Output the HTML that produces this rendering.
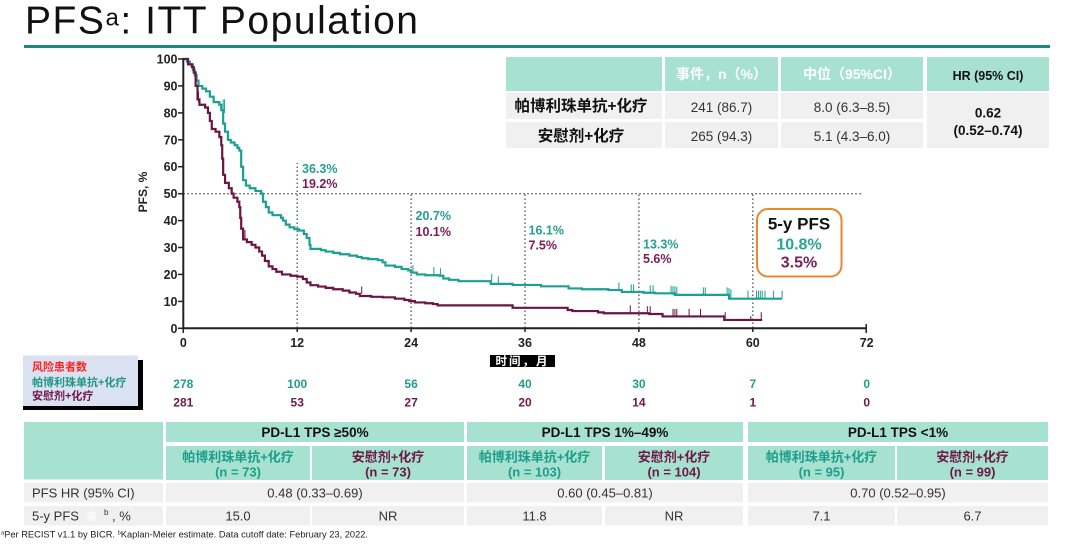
<!DOCTYPE html>
<html>
<head>
<meta charset="utf-8">
<style>
  html,body{margin:0;padding:0;background:#fff;}
  svg{display:block;}
  text{font-family:"Liberation Sans","Noto Sans CJK SC",sans-serif;}
</style>
</head>
<body>
<svg width="1080" height="548" viewBox="0 0 1080 548" xmlns="http://www.w3.org/2000/svg">
  <rect x="0" y="0" width="1080" height="548" fill="#ffffff"/>

  <!-- Title -->
  <text x="25" y="33.5" font-size="39" fill="#111" textLength="393" lengthAdjust="spacing">PFS<tspan font-size="24" dy="-8">a</tspan><tspan dy="8">: ITT Population</tspan></text>
  <rect x="24" y="45" width="1026" height="3" fill="#1a8a7f"/>

  <!-- Top right table -->
  <g>
    <rect x="506" y="57" width="156" height="34" fill="#a7e2d0"/>
    <rect x="665" y="57" width="113" height="34" fill="#a7e2d0"/>
    <rect x="781" y="57" width="142" height="34" fill="#a7e2d0"/>
    <rect x="927" y="57" width="122" height="34" fill="#a7e2d0"/>
    <rect x="506" y="93" width="156" height="26" fill="#f0f0f0"/>
    <rect x="665" y="93" width="113" height="26" fill="#f0f0f0"/>
    <rect x="781" y="93" width="142" height="26" fill="#f0f0f0"/>
    <rect x="506" y="122" width="156" height="26" fill="#f0f0f0"/>
    <rect x="665" y="122" width="113" height="26" fill="#f0f0f0"/>
    <rect x="781" y="122" width="142" height="26" fill="#f0f0f0"/>
    <rect x="927" y="93" width="122" height="55" fill="#f0f0f0"/>

    <text x="721.5" y="79" font-size="14" font-weight="bold" fill="#ffffff" text-anchor="middle">事件，n（%）</text>
    <text x="852" y="79" font-size="14" font-weight="bold" fill="#ffffff" text-anchor="middle">中位（95%CI）</text>
    <text x="988" y="80" font-size="12.5" font-weight="bold" fill="#111" text-anchor="middle">HR (95% CI)</text>

    <text x="581" y="111" font-size="15.5" font-weight="bold" fill="#111" text-anchor="middle">帕博利珠单抗+化疗</text>
    <text x="581" y="141" font-size="15.5" font-weight="bold" fill="#111" text-anchor="middle">安慰剂+化疗</text>

    <text x="721.5" y="112" font-size="13.5" fill="#333" text-anchor="middle">241 (86.7)</text>
    <text x="721.5" y="141" font-size="13.5" fill="#333" text-anchor="middle">265 (94.3)</text>
    <text x="852" y="112" font-size="13.5" fill="#333" text-anchor="middle">8.0 (6.3–8.5)</text>
    <text x="852" y="141" font-size="13.5" fill="#333" text-anchor="middle">5.1 (4.3–6.0)</text>

    <text x="988" y="117.5" font-size="13.5" font-weight="bold" fill="#111" text-anchor="middle">0.62</text>
    <text x="988" y="135" font-size="13.5" font-weight="bold" fill="#111" text-anchor="middle">(0.52–0.74)</text>
  </g>

  <!-- Dotted reference lines -->
  <g stroke="#555" stroke-width="1.3" stroke-dasharray="1.5 2.5" fill="none">
    <line x1="183.3" y1="193.7" x2="862" y2="193.7"/>
    <line x1="297.2" y1="328" x2="297.2" y2="163"/>
    <line x1="411.1" y1="328" x2="411.1" y2="194"/>
    <line x1="525" y1="328" x2="525" y2="194"/>
    <line x1="638.9" y1="328" x2="638.9" y2="192"/>
    <line x1="752.8" y1="328" x2="752.8" y2="192"/>
  </g>

  <!-- Curves -->
  <g transform="translate(183.3,328.3) scale(9.49,-2.693)" fill="none">
    <path vector-effect="non-scaling-stroke" stroke="#1ba091" stroke-width="2.2" d="M0,100 H0.4 V99 H0.7 V98 H1.0 V96 H1.2 V94 H1.4 V92 H1.6 V90 H2.0 V89 H2.4 V88 H2.8 V86 H3.2 V84 H3.8 V83 H4.0 V81 H4.2 V76 H4.4 V73 H4.7 V70 H5.0 V69 H5.4 V68 H5.7 V67 H5.9 V66 H6.1 V60 H6.3 V55 H6.6 V53 H7.0 V52 H7.6 V51 H8.2 V50 H8.4 V47 H8.7 V45 H9.0 V43 H9.4 V42 H10.3 V41 H10.5 V40 H10.8 V38.5 H11.2 V37.5 H11.7 V36.8 H12.2 V36.3 H12.7 V35 H13.0 V33.5 H13.3 V31 H13.4 V29.5 H14.5 V29 H15.0 V28.5 H15.8 V28 H16.5 V27.5 H17.5 V27 H18.3 V26.5 H18.8 V26 H19.5 V25.7 H20.5 V25.3 H21.0 V24.5 H21.3 V23.3 H22.3 V22.8 H23.0 V22 H23.7 V21.5 H24.0 V20.7 H24.6 V20 H25.5 V19.7 H27.0 V19.5 H27.4 V18.5 H28.0 V18 H29.0 V17.5 H32.4 V16.5 H34.7 V16.1 H37.7 V15.6 H40.6 V14.8 H42.0 V14.5 H44.8 V14.2 H46.2 V13.5 H48.5 V13.2 H49.7 V13.0 H51.8 V12.4 H57.5 V11.0 H63.1"/>
    <path vector-effect="non-scaling-stroke" stroke="#6b1545" stroke-width="2.2" d="M0,100 H0.5 V98 H0.9 V97 H1.1 V95 H1.3 V90 H1.5 V85 H1.7 V83 H2.3 V82 H2.6 V80 H2.8 V77 H3.0 V74 H3.4 V73 H3.8 V71 H4.0 V68 H4.1 V63 H4.2 V57 H4.4 V54 H4.8 V52 H5.1 V50 H5.3 V48.5 H5.7 V47 H5.9 V45 H6.0 V41 H6.1 V37 H6.3 V33 H6.7 V32 H7.2 V31 H7.6 V30 H8.0 V28.5 H8.3 V27 H8.6 V25 H9.0 V23 H9.4 V22 H9.8 V21 H10.4 V20 H11.3 V19.5 H12.0 V19.2 H12.6 V18.3 H13.0 V17 H13.4 V16 H14.2 V15.5 H15.0 V15 H15.8 V14.5 H16.8 V14 H17.5 V13.3 H18.2 V12.8 H18.6 V12 H19.8 V11.7 H21.0 V11.5 H22.3 V11 H23.3 V10.5 H23.8 V10.1 H24.4 V9.6 H25.5 V9.3 H26.3 V9.0 H26.8 V8.5 H34.7 V7.6 H40.5 V6.8 H41.0 V6.4 H43.7 V5.9 H44.3 V5.6 H49.1 V5.3 H50.5 V4.4 H57.0 V3.1 H61.0"/>
    <path vector-effect="non-scaling-stroke" stroke="#1ba091" stroke-width="1" d="M4.2,79V85 M4.35,80V85 M24.2,20.7V23.5 M26.4,19.7V22.7 M27.1,19.5V22.3 M32.5,17.5V20.3 M33.2,16.5V19.3 M45.9,14.2V17 M47.2,13.5V16.3 M47.45,13.5V16.3 M49.2,13.2V16 M49.5,13.2V16 M51.4,13V15.8 M51.6,12.4V15.6 M51.8,12.4V15.6 M52.0,12.4V15.4 M54.8,12.4V15.2 M55.0,12.4V15.2 M57.3,12.4V15.2 M57.5,11V15 M57.7,11V14.5 M59.5,11V14 M60.4,11V14 M60.6,11V14 M60.8,11V14 M61.0,11V14 M61.3,11V14 M62.2,11V14 M63.1,11V14"/>
    <path vector-effect="non-scaling-stroke" stroke="#6b1545" stroke-width="1" d="M1.6,84V88 M6.5,33V36.5 M18.8,12.8V15.5 M47.1,5.6V8.5 M48.9,5.3V8.2 M49.2,5.3V8.2 M51.6,4.4V7.2 M51.8,4.4V7.2 M52.0,4.4V7.2 M53.3,4.4V7.2 M54.5,4.4V7.2 M57.1,3.1V6 M59.8,3.1V4.5 M60.9,3.1V6"/>
  </g>

  <!-- Axes -->
  <g stroke="#222" stroke-width="2" fill="none">
    <line x1="183.3" y1="58" x2="183.3" y2="329.3"/>
    <line x1="182.3" y1="328.3" x2="867" y2="328.3"/>
  </g>
  <g stroke="#222" stroke-width="1.5">
    <line x1="178" y1="328.3" x2="183" y2="328.3"/>
    <line x1="178" y1="301.4" x2="183" y2="301.4"/>
    <line x1="178" y1="274.4" x2="183" y2="274.4"/>
    <line x1="178" y1="247.5" x2="183" y2="247.5"/>
    <line x1="178" y1="220.6" x2="183" y2="220.6"/>
    <line x1="178" y1="193.7" x2="183" y2="193.7"/>
    <line x1="178" y1="166.7" x2="183" y2="166.7"/>
    <line x1="178" y1="139.8" x2="183" y2="139.8"/>
    <line x1="178" y1="112.9" x2="183" y2="112.9"/>
    <line x1="178" y1="85.9" x2="183" y2="85.9"/>
    <line x1="178" y1="59" x2="183" y2="59"/>
    <line x1="183.3" y1="328" x2="183.3" y2="333"/>
    <line x1="297.2" y1="328" x2="297.2" y2="332"/>
    <line x1="411.1" y1="328" x2="411.1" y2="332"/>
    <line x1="525" y1="328" x2="525" y2="332"/>
    <line x1="638.9" y1="328" x2="638.9" y2="332"/>
    <line x1="752.8" y1="328" x2="752.8" y2="332"/>
    <line x1="866.2" y1="324" x2="866.2" y2="333"/>
  </g>

  <!-- Y labels -->
  <g font-size="12.5" font-weight="bold" fill="#222" text-anchor="end">
    <text x="177.5" y="332.8">0</text>
    <text x="177.5" y="305.9">10</text>
    <text x="177.5" y="278.9">20</text>
    <text x="177.5" y="252">30</text>
    <text x="177.5" y="225.1">40</text>
    <text x="177.5" y="198.2">50</text>
    <text x="177.5" y="171.2">60</text>
    <text x="177.5" y="144.3">70</text>
    <text x="177.5" y="117.4">80</text>
    <text x="177.5" y="90.4">90</text>
    <text x="177.5" y="63.5">100</text>
  </g>
  <text transform="translate(147,192) rotate(-90)" font-size="12" font-weight="bold" fill="#222" text-anchor="middle">PFS, %</text>

  <!-- X labels -->
  <g font-size="12.5" font-weight="bold" fill="#222" text-anchor="middle">
    <text x="183.3" y="347.2">0</text>
    <text x="297.2" y="347.2">12</text>
    <text x="411.1" y="347.2">24</text>
    <text x="525" y="347.2">36</text>
    <text x="638.9" y="347.2">48</text>
    <text x="752.8" y="347.2">60</text>
    <text x="866.7" y="347.2">72</text>
  </g>
  <rect x="490" y="355" width="65" height="12" fill="#000"/>
  <text x="522.5" y="365" font-size="11.5" font-weight="bold" fill="#fff" text-anchor="middle" letter-spacing="2">时间，月</text>

  <!-- Percent annotations -->
  <g font-size="12.5" font-weight="bold">
    <text x="302" y="172.8" fill="#25a090">36.3%</text>
    <text x="302" y="187.8" fill="#7a1d55">19.2%</text>
    <text x="415.5" y="220.2" fill="#25a090">20.7%</text>
    <text x="415.5" y="236.2" fill="#7a1d55">10.1%</text>
    <text x="528.5" y="234.5" fill="#25a090">16.1%</text>
    <text x="528.5" y="249.5" fill="#7a1d55">7.5%</text>
    <text x="643" y="248.5" fill="#25a090">13.3%</text>
    <text x="643" y="262.8" fill="#7a1d55">5.6%</text>
  </g>

  <!-- 5-y PFS box -->
  <rect x="757" y="209" width="84.5" height="67.5" rx="11" ry="11" fill="#fff" stroke="#e8872f" stroke-width="2"/>
  <text x="799" y="229.5" font-size="17" font-weight="bold" fill="#111" text-anchor="middle">5-y PFS</text>
  <text x="799" y="249.3" font-size="16" font-weight="bold" fill="#27a595" text-anchor="middle">10.8%</text>
  <text x="799" y="267.5" font-size="16" font-weight="bold" fill="#7b1f5a" text-anchor="middle">3.5%</text>

  <!-- Risk box -->
  <rect x="138" y="360" width="5" height="50" fill="#000"/>
  <rect x="23" y="406" width="120" height="4" fill="#000"/>
  <rect x="23" y="355.5" width="115" height="50.5" fill="#dae1f0"/>
  <text x="32" y="370.5" font-size="11" font-weight="bold" fill="#ff2222">风险患者数</text>
  <text x="32" y="386" font-size="11" font-weight="bold" fill="#1f9585">帕博利珠单抗+化疗</text>
  <text x="32" y="399.5" font-size="11" font-weight="bold" fill="#6e1848">安慰剂+化疗</text>

  <g font-size="12" font-weight="bold" text-anchor="middle" fill="#229d8c">
    <text x="183.3" y="387.8">278</text>
    <text x="297.2" y="387.8">100</text>
    <text x="411.1" y="387.8">56</text>
    <text x="525" y="387.8">40</text>
    <text x="638.9" y="387.8">30</text>
    <text x="752.8" y="387.8">7</text>
    <text x="866.7" y="387.8">0</text>
  </g>
  <g font-size="12" font-weight="bold" text-anchor="middle" fill="#6e1848">
    <text x="183.3" y="406.3">281</text>
    <text x="297.2" y="406.3">53</text>
    <text x="411.1" y="406.3">27</text>
    <text x="525" y="406.3">20</text>
    <text x="638.9" y="406.3">14</text>
    <text x="752.8" y="406.3">1</text>
    <text x="866.7" y="406.3">0</text>
  </g>

  <!-- Bottom table -->
  <g fill="#a7e2d0">
    <rect x="24" y="422" width="139" height="57.5"/>
    <rect x="166" y="422" width="298" height="20"/>
    <rect x="467" y="422" width="276" height="20"/>
    <rect x="748" y="422" width="300" height="20"/>
    <rect x="166" y="446" width="144" height="34"/>
    <rect x="312" y="446" width="152" height="34"/>
    <rect x="467" y="446" width="135" height="34"/>
    <rect x="605" y="446" width="138" height="34"/>
    <rect x="748" y="446" width="147" height="34"/>
    <rect x="897" y="446" width="151" height="34"/>
  </g>
  <g fill="#f0f0f0">
    <rect x="24" y="483" width="139" height="19.5"/>
    <rect x="166" y="483" width="298" height="19.5"/>
    <rect x="467" y="483" width="276" height="19.5"/>
    <rect x="748" y="483" width="300" height="19.5"/>
    <rect x="24" y="506" width="139" height="19.5"/>
    <rect x="166" y="506" width="144" height="19.5"/>
    <rect x="312" y="506" width="152" height="19.5"/>
    <rect x="467" y="506" width="135" height="19.5"/>
    <rect x="605" y="506" width="138" height="19.5"/>
    <rect x="748" y="506" width="147" height="19.5"/>
    <rect x="897" y="506" width="151" height="19.5"/>
  </g>

  <g font-size="13.5" font-weight="bold" fill="#111" text-anchor="middle">
    <text x="315" y="437">PD-L1 TPS ≥50%</text>
    <text x="605" y="437">PD-L1 TPS 1%–49%</text>
    <text x="898" y="437">PD-L1 TPS &lt;1%</text>
  </g>

  <g font-size="13" font-weight="bold" text-anchor="middle">
    <text x="238" y="461.5" fill="#1f9d8b">帕博利珠单抗+化疗</text>
    <text x="238" y="476.5" fill="#1f9d8b">(n = 73)</text>
    <text x="388" y="461.5" fill="#6e1848">安慰剂+化疗</text>
    <text x="388" y="476.5" fill="#6e1848">(n = 73)</text>
    <text x="534.5" y="461.5" fill="#1f9d8b">帕博利珠单抗+化疗</text>
    <text x="534.5" y="476.5" fill="#1f9d8b">(n = 103)</text>
    <text x="674" y="461.5" fill="#6e1848">安慰剂+化疗</text>
    <text x="674" y="476.5" fill="#6e1848">(n = 104)</text>
    <text x="821.5" y="461.5" fill="#1f9d8b">帕博利珠单抗+化疗</text>
    <text x="821.5" y="476.5" fill="#1f9d8b">(n = 95)</text>
    <text x="972.5" y="461.5" fill="#6e1848">安慰剂+化疗</text>
    <text x="972.5" y="476.5" fill="#6e1848">(n = 99)</text>
  </g>

  <text x="32" y="497.7" font-size="13" fill="#333">PFS HR (95% CI)</text>
  <text x="32" y="520.5" font-size="13" fill="#333">5-y PFS</text>
  <text x="86" y="520.5" font-size="11" fill="#ffffff">率</text>
  <text x="104" y="515" font-size="8" fill="#333">b</text>
  <text x="112" y="520.5" font-size="13" fill="#333">, %</text>

  <g font-size="13" fill="#333" text-anchor="middle">
    <text x="315" y="497.7">0.48 (0.33–0.69)</text>
    <text x="605" y="497.7">0.60 (0.45–0.81)</text>
    <text x="898" y="497.7">0.70 (0.52–0.95)</text>
    <text x="238" y="520.5">15.0</text>
    <text x="388" y="520.5">NR</text>
    <text x="534.5" y="520.5">11.8</text>
    <text x="674" y="520.5">NR</text>
    <text x="821.5" y="520.5">7.1</text>
    <text x="972.5" y="520.5">6.7</text>
  </g>

  <!-- Footnote -->
  <text x="1" y="537.5" font-size="9" fill="#222" textLength="367" lengthAdjust="spacingAndGlyphs"><tspan font-size="5.5" dy="-3">a</tspan><tspan dy="3">Per RECIST v1.1 by BICR. </tspan><tspan font-size="5.5" dy="-3">b</tspan><tspan dy="3">Kaplan-Meier estimate.  Data cutoff date: February 23, 2022.</tspan></text>
</svg>
</body>
</html>
